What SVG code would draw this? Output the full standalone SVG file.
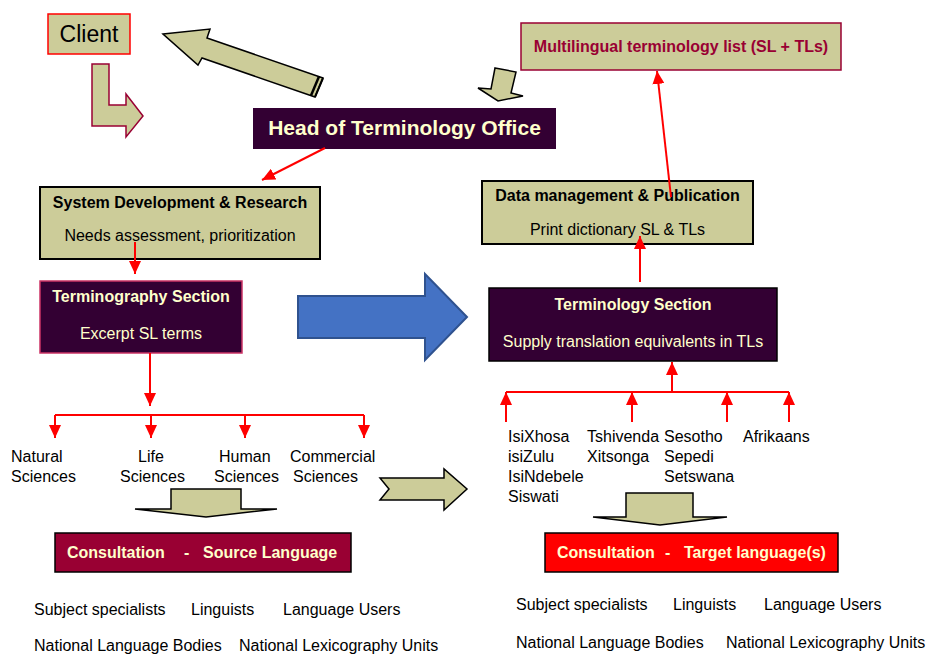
<svg xmlns="http://www.w3.org/2000/svg" width="929" height="654" viewBox="0 0 929 654">
<style>
text{font-family:"Liberation Sans",Arial,sans-serif;}
.k{fill:#CCCC99;}
.t16{font-size:16px;fill:#000;}
.b16{font-size:16px;font-weight:bold;}
.cream{fill:#FFFFCC;}
.con line{stroke:#FF0000;stroke-width:2;fill:none;}
.blk{stroke:#000;stroke-width:1.5;}
</style>
<defs>
<marker id="ah" markerWidth="13" markerHeight="12" refX="13" refY="6" orient="auto" markerUnits="userSpaceOnUse" viewBox="0 0 13 12">
<path d="M0,0 L13,6 L0,12 z" fill="#FF0000"/>
</marker>
</defs>
<rect width="929" height="654" fill="#fff"/>

<!-- decorative block arrows -->
<g id="arrow-client-l">
<polygon class="k" points="92,64 109,64 109,105 126,105 126,94 143,116 126,137 126,126 92,126" stroke="#990033" stroke-width="1.5"/>
</g>
<g id="arrow-to-client">
<polygon class="k blk" points="163,34 210,29 207,38 323,78 315,97 202,58 198,65"/>
<line x1="319" y1="76.5" x2="311" y2="95.5" stroke="#000" stroke-width="2.5"/>
<line x1="323" y1="78" x2="315" y2="97" stroke="#000" stroke-width="2"/>
</g>
<g id="arrow-to-head">
<polygon class="k blk" points="495,68 516,72 511,93 523,96 498,101 478,88 491,89"/>
</g>
<g id="arrow-blue">
<polygon points="298,296 425,296 425,274 467,317 425,360 425,338 298,338" fill="#4472C4" stroke="#2F528F" stroke-width="2"/>
</g>
<g id="arrow-mid">
<polygon class="k blk" points="380,478 444,478 444,469 467,489 444,510 444,500 380,500 389,489"/>
</g>
<g id="arrow-down-left">
<polygon class="k blk" points="171,489 241,489 241,509 277,509 206,517 135,509 171,509"/>
</g>
<g id="arrow-down-right">
<polygon class="k blk" points="626,493 693,493 693,517 727,517 660,525 593,517 626,517"/>
</g>

<!-- nodes -->
<g id="client">
<rect x="48" y="14" width="82" height="40" class="k" stroke="#FF0000" stroke-width="1.5"/>
<text x="89" y="42" font-size="23" text-anchor="middle" fill="#000">Client</text>
</g>
<g id="head">
<rect x="253" y="108" width="303" height="41" fill="#330033"/>
<text x="404.5" y="135" font-size="21" font-weight="bold" text-anchor="middle" class="cream">Head of Terminology Office</text>
</g>
<g id="multilingual">
<rect x="521" y="23" width="320" height="47" class="k" stroke="#990033" stroke-width="1.5"/>
<text x="681" y="52" class="b16" text-anchor="middle" fill="#990033">Multilingual terminology list (SL + TLs)</text>
</g>
<g id="sysdev">
<rect x="40" y="187" width="280" height="72" class="k" stroke="#000" stroke-width="2"/>
<text x="180" y="208" class="b16" text-anchor="middle">System Development &amp; Research</text>
<text x="180" y="241" class="t16" text-anchor="middle">Needs assessment, prioritization</text>
</g>
<g id="terminography">
<rect x="40" y="281" width="202" height="72" fill="#330033" stroke="#CC3366" stroke-width="1.5"/>
<text x="141" y="302" class="b16 cream" text-anchor="middle">Terminography Section</text>
<text x="141" y="339" font-size="16" class="cream" text-anchor="middle">Excerpt SL terms</text>
</g>
<g id="datamgmt">
<rect x="482" y="181" width="271" height="63" class="k" stroke="#000" stroke-width="2"/>
<text x="617.5" y="201" class="b16" text-anchor="middle">Data management &amp; Publication</text>
<text x="617.5" y="235" class="t16" text-anchor="middle">Print dictionary SL &amp; TLs</text>
</g>
<g id="terminology">
<rect x="489" y="288" width="288" height="73" fill="#330033" stroke="#000" stroke-width="1.5"/>
<text x="633" y="310" class="b16 cream" text-anchor="middle">Terminology Section</text>
<text x="633" y="347" font-size="16" class="cream" text-anchor="middle">Supply translation equivalents in TLs</text>
</g>

<g id="sciences" class="t16">
<text x="11" y="462" class="t16">Natural</text>
<text x="11" y="482" class="t16">Sciences</text>
<text x="138" y="462" class="t16">Life</text>
<text x="120" y="482" class="t16">Sciences</text>
<text x="219" y="462" class="t16">Human</text>
<text x="214" y="482" class="t16">Sciences</text>
<text x="290" y="462" class="t16">Commercial</text>
<text x="293" y="482" class="t16">Sciences</text>
</g>
<g id="languages">
<text x="508" y="442" class="t16">IsiXhosa</text>
<text x="508" y="462" class="t16">isiZulu</text>
<text x="508" y="482" class="t16">IsiNdebele</text>
<text x="508" y="502" class="t16">Siswati</text>
<text x="587" y="442" class="t16">Tshivenda</text>
<text x="587" y="462" class="t16">Xitsonga</text>
<text x="664" y="442" class="t16">Sesotho</text>
<text x="664" y="462" class="t16">Sepedi</text>
<text x="664" y="482" class="t16">Setswana</text>
<text x="743" y="442" class="t16">Afrikaans</text>
</g>

<g id="consult-sl">
<rect x="55" y="533" width="296" height="39" fill="#990033" stroke="#000" stroke-width="1.5"/>
<text x="67" y="558" class="b16 cream">Consultation</text>
<text x="184" y="558" class="b16 cream">-</text>
<text x="203" y="558" class="b16 cream">Source Language</text>
</g>
<g id="consult-sl-list">
<text x="34" y="615" class="t16">Subject specialists</text>
<text x="191" y="615" class="t16">Linguists</text>
<text x="283" y="615" class="t16">Language Users</text>
<text x="34" y="651" class="t16">National Language Bodies</text>
<text x="239" y="651" class="t16">National Lexicography Units</text>
</g>
<g id="consult-tl">
<rect x="545" y="533" width="293" height="39" fill="#FF0000" stroke="#000" stroke-width="1.5"/>
<text x="557" y="558" class="b16 cream">Consultation</text>
<text x="665" y="558" class="b16 cream">-</text>
<text x="684" y="558" class="b16 cream">Target language(s)</text>
</g>
<g id="consult-tl-list">
<text x="516" y="610" class="t16">Subject specialists</text>
<text x="673" y="610" class="t16">Linguists</text>
<text x="764" y="610" class="t16">Language Users</text>
<text x="516" y="648" class="t16">National Language Bodies</text>
<text x="726" y="648" class="t16">National Lexicography Units</text>
</g>

<!-- connectors -->
<g id="connectors" class="con">
<line x1="325" y1="148" x2="262" y2="180" marker-end="url(#ah)"/>
<line x1="135" y1="242" x2="135" y2="274" marker-end="url(#ah)"/>
<line x1="150" y1="353" x2="150" y2="406" marker-end="url(#ah)"/>
<line x1="55" y1="415" x2="364" y2="415"/>
<line x1="55" y1="415" x2="55" y2="438" marker-end="url(#ah)"/>
<line x1="151" y1="415" x2="151" y2="438" marker-end="url(#ah)"/>
<line x1="245" y1="415" x2="245" y2="438" marker-end="url(#ah)"/>
<line x1="364" y1="415" x2="364" y2="438" marker-end="url(#ah)"/>
<line x1="506" y1="392" x2="789" y2="392"/>
<line x1="506" y1="422" x2="506" y2="392" marker-end="url(#ah)"/>
<line x1="632" y1="422" x2="632" y2="392" marker-end="url(#ah)"/>
<line x1="727" y1="422" x2="727" y2="392" marker-end="url(#ah)"/>
<line x1="789" y1="422" x2="789" y2="392" marker-end="url(#ah)"/>
<line x1="672" y1="392" x2="672" y2="362" marker-end="url(#ah)"/>
<line x1="640" y1="282" x2="640" y2="236" marker-end="url(#ah)"/>
<line x1="671" y1="197" x2="657" y2="71" marker-end="url(#ah)"/>
</g>
</svg>
